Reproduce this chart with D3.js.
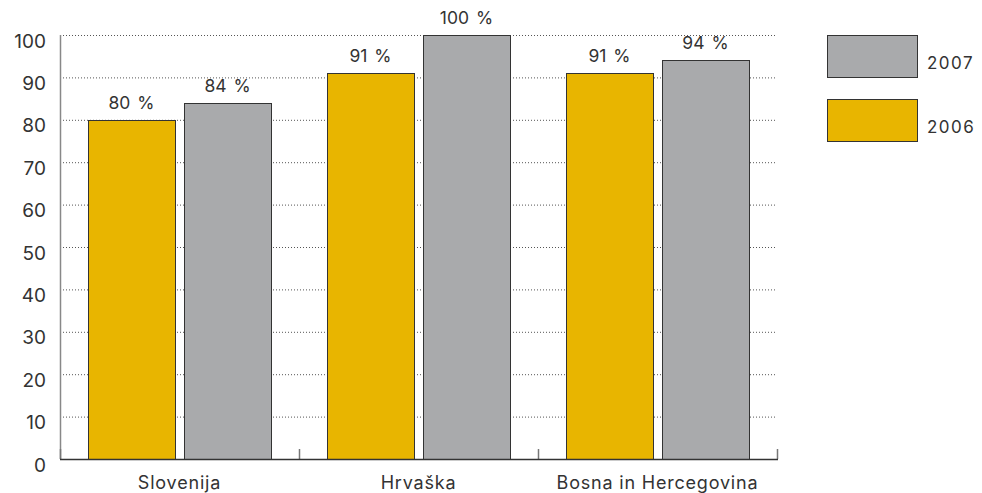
<!DOCTYPE html>
<html lang="sl">
<head>
    <meta charset="UTF-8">
    <title>Bar chart</title>
    <script src="https://d3js.org/d3.v7.min.js"></script>
    <style>
        body { margin: 0; background: #fff; }
        svg { font-family: Inter, "Liberation Sans", Arial, sans-serif; }
        text { fill: #333; }
    </style>
</head>
<body>
<div id="chart"></div>
<script>
    // data
    var categories = ["Slovenija", "Hrvaška", "Bosna in Hercegovina"];
    var series = ["2006", "2007"];
    var values2006 = [80, 91, 91];
    var values2007 = [84, 100, 94];
    var yTicks = [0, 10, 20, 30, 40, 50, 60, 70, 80, 90, 100];
    var legendOrder = ["2007", "2006"];

    var colors = { "2006": "#e8b500", "2007": "#a9aaac" };

    var width = 982, height = 493;
    var plotLeft = 60, plotRight = 777, plotTop = 35, plotBottom = 459;

    var svg = d3.select("#chart").append("svg")
        .attr("width", width)
        .attr("height", height);

    var y = d3.scaleLinear().domain([0, 100]).range([plotBottom, plotTop]);
    var x0 = d3.scaleBand().domain(categories).range([plotLeft, plotRight]).padding(0);
    var bw = x0.bandwidth();
    var x1 = d3.scaleBand().domain(series).range([28, bw - 28]).paddingInner(0.094).paddingOuter(0);

    // gridlines
    svg.append("g").selectAll("line")
        .data(yTicks.filter(function(d) { return d > 0; }))
        .enter().append("line")
        .attr("x1", plotLeft).attr("x2", plotRight)
        .attr("y1", function(d) { return y(d) + 0.5; })
        .attr("y2", function(d) { return y(d) + 0.5; })
        .attr("stroke", "#555")
        .attr("stroke-width", 1)
        .attr("stroke-dasharray", "1,2");

    // y labels
    svg.append("g").selectAll("text")
        .data(yTicks)
        .enter().append("text")
        .attr("x", 46)
        .attr("y", function(d) { return y(d) + 12.5; })
        .attr("text-anchor", "end")
        .style("font-size", "19px")
        .text(function(d) { return d; });

    var rows = [];
    categories.forEach(function(c, i) {
        rows.push({ cat: c, s: "2006", v: values2006[i] });
        rows.push({ cat: c, s: "2007", v: values2007[i] });
    });

    // bars
    svg.append("g").selectAll("rect")
        .data(rows)
        .enter().append("rect")
        .attr("x", function(d) { return Math.round(x0(d.cat) + x1(d.s)) + 0.5; })
        .attr("y", function(d) { return Math.round(y(d.v)) + 0.5; })
        .attr("width", Math.round(x1.bandwidth()))
        .attr("height", function(d) { return Math.round(plotBottom - y(d.v)); })
        .attr("fill", function(d) { return colors[d.s]; })
        .attr("stroke", "#333")
        .attr("stroke-width", 1);

    // value labels
    svg.append("g").selectAll("text")
        .data(rows)
        .enter().append("text")
        .attr("x", function(d) { return x0(d.cat) + x1(d.s) + x1.bandwidth() / 2; })
        .attr("y", function(d) { return y(d.v) - 11; })
        .attr("text-anchor", "middle")
        .style("font-size", "17.5px")
        .style("word-spacing", "2px")
        .text(function(d) { return d.v + " %"; });

    // axes
    svg.append("line")
        .attr("x1", plotLeft + 0.5).attr("x2", plotLeft + 0.5)
        .attr("y1", plotTop).attr("y2", plotBottom)
        .attr("stroke", "#888").attr("stroke-width", 1.5);

    svg.append("g").selectAll("line")
        .data(categories.map(function(c) { return x0(c); }).concat([plotRight]))
        .enter().append("line")
        .attr("x1", function(d) { return d + 0.5; })
        .attr("x2", function(d) { return d + 0.5; })
        .attr("y1", plotBottom - 10).attr("y2", plotBottom)
        .attr("stroke", "#777").attr("stroke-width", 1.5);

    svg.append("line")
        .attr("x1", plotLeft).attr("x2", plotRight + 1)
        .attr("y1", plotBottom + 0.5).attr("y2", plotBottom + 0.5)
        .attr("stroke", "#333").attr("stroke-width", 1.5);

    // category labels
    svg.append("g").selectAll("text")
        .data(categories)
        .enter().append("text")
        .attr("x", function(d) { return x0(d) + bw / 2; })
        .attr("y", 489)
        .attr("text-anchor", "middle")
        .style("font-size", "18px")
        .style("letter-spacing", "0.8px")
        .text(function(d) { return d; });

    // legend
    var legend = svg.append("g").selectAll("g")
        .data(legendOrder)
        .enter().append("g")
        .attr("transform", function(d, i) { return "translate(827," + (35 + i * 64) + ")"; });

    legend.append("rect")
        .attr("x", 0.5).attr("y", 0.5)
        .attr("width", 90).attr("height", 42)
        .attr("fill", function(d) { return colors[d]; })
        .attr("stroke", "#333");

    legend.append("text")
        .attr("x", 100)
        .attr("y", 33.5)
        .style("font-size", "17px")
        .style("letter-spacing", "1.5px")
        .text(function(d) { return d; });
</script>
</body>
</html>
